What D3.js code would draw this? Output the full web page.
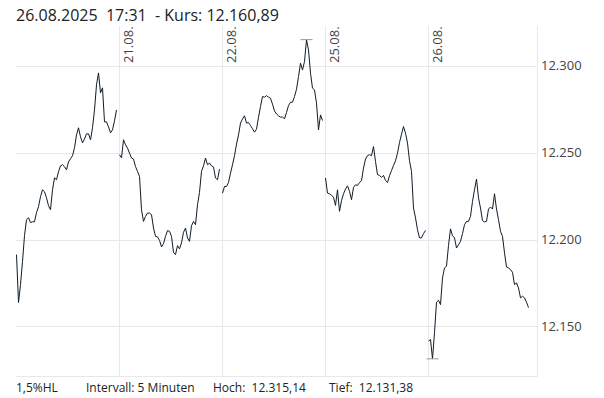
<!DOCTYPE html>
<meta charset="utf-8">
<html>
  <head>
    <script src="https://d3js.org/d3.v7.min.js"></script>
    <style>
      body { margin: 0; background: #fff; }
      text { font-family: "Open Sans", sans-serif; }
    </style>
  </head>
  <body>
    <svg id="chart" width="604" height="398"></svg>
    <script>
    // trading days shown, each one a session of 5-minute slots
    const days = ["20.08.", "21.08.", "22.08.", "25.08.", "26.08."];
    const slotsPerDay = 103;
    const sampleStep = 2; // one value every 10 minutes

    // index values, one per 10 minutes
    const kurs2008 = [12191.4, 12163.8, 12174.1, 12187.4, 12202.3, 12211.5, 12212.6, 12209.8, 12210.3, 12210.3,
        12215.5, 12219.0, 12224.7, 12228.7, 12227.6, 12224.1, 12219.5, 12217.2, 12228.7, 12235.6,
        12234.5, 12239.1, 12242.5, 12243.1, 12242.0, 12240.2, 12244.8, 12246.6, 12248.3, 12252.9,
        12260.3, 12264.4, 12259.2, 12255.7, 12258.0, 12260.9, 12260.9, 12257.5, 12264.4, 12274.7,
        12289.1, 12296.0, 12284.5, 12287.4, 12267.8, 12267.8, 12264.9, 12261.5, 12263.2, 12268.4, 12274.7];
    const kurs2108 = [12248.9, 12247.1, 12257.5, 12254.6, 12252.7, 12249.8, 12247.0, 12246.4, 12242.1, 12239.3,
        12236.4, 12217.2, 12210.5, 12213.4, 12215.3, 12215.3, 12214.4, 12206.7, 12201.9, 12201.6,
        12199.6, 12195.8, 12197.7, 12201.9, 12205.2, 12204.8, 12201.9, 12192.7, 12191.4, 12196.6,
        12194.7, 12198.1, 12204.2, 12206.7, 12201.0, 12199.0, 12208.0, 12210.5, 12208.6, 12220.1,
        12227.2, 12239.3, 12242.5, 12247.0, 12243.1, 12244.1, 12242.5, 12241.8, 12235.5, 12234.5, 12240.6];
    const kurs2208 = [12226.8, 12230.6, 12230.6, 12232.9, 12238.3, 12243.1, 12248.3, 12255.0, 12260.3, 12267.1,
        12269.5, 12271.3, 12267.1, 12267.4, 12265.7, 12263.8, 12261.9, 12263.6, 12270.5, 12276.6,
        12282.4, 12282.0, 12282.9, 12282.0, 12281.4, 12278.0, 12274.1, 12272.4, 12271.3, 12270.5,
        12270.7, 12269.5, 12273.2, 12277.2, 12279.1, 12279.1, 12282.4, 12286.6, 12293.9, 12301.6,
        12297.7, 12302.5, 12315.14, 12309.2, 12295.8, 12287.2, 12286.2, 12278.6, 12263.2, 12271.8, 12268.6];
    const kurs2508 = [12235.5, 12226.8, 12226.4, 12225.5, 12224.5, 12219.7, 12228.7, 12216.3, 12222.4, 12226.4,
        12229.1, 12231.0, 12227.8, 12223.0, 12230.1, 12231.6, 12231.2, 12232.9, 12233.9, 12241.2,
        12246.4, 12248.4, 12248.9, 12248.3, 12253.6, 12245.0, 12237.4, 12237.0, 12235.8, 12237.0,
        12234.1, 12232.9, 12236.8, 12239.8, 12242.7, 12245.4, 12249.8, 12255.9, 12260.7, 12265.1,
        12261.3, 12255.6, 12245.4, 12239.3, 12218.2, 12212.5, 12205.7, 12201.0, 12201.0, 12203.5, 12205.3];
    const kurs2608 = [12141.6, 12142.5, 12131.38, 12146.4, 12164.0, 12165.1, 12162.6, 12178.0, 12183.7, 12184.7,
        12196.6, 12206.2, 12202.3, 12201.0, 12195.2, 12197.1, 12199.0, 12203.5, 12208.6, 12210.5,
        12210.5, 12213.4, 12222.0, 12228.7, 12234.9, 12224.0, 12218.2, 12210.9, 12210.2, 12210.5,
        12217.6, 12218.8, 12217.6, 12226.4, 12217.6, 12211.5, 12204.8, 12201.9, 12192.4, 12184.3,
        12183.7, 12182.8, 12181.2, 12174.1, 12175.1, 12172.2, 12166.5, 12167.4, 12166.5, 12164.0, 12160.89];
    const series = [kurs2008, kurs2108, kurs2208, kurs2508, kurs2608];

    const yTicks = [12150, 12200, 12250, 12300];
    const titleText = "26.08.2025  17:31  - Kurs: ";
    const footer = ["1,5%HL", "Intervall: 5 Minuten", "Hoch:  12.315,14", "Tief:  12.131,38"];

    const de = d3.formatLocale({decimal: ",", thousands: ".", grouping: [3], currency: ["", " €"]});
    const fmtTick = de.format(",.0f");
    const fmtKurs = de.format(",.2f");

    var pLeft = 16, pRight = 537, pTop = 26, pBottom = 376;
    var svg = d3.select("#chart");

    var x = d3.scaleLinear()
        .domain([0, days.length * slotsPerDay + 6])
        .range([pLeft, pRight]);
    var y = d3.scaleLinear()
        .domain([12121.5, 12323])
        .range([pBottom, pTop]);

    // horizontal grid
    svg.append("g").selectAll("line")
        .data(yTicks)
        .enter().append("line")
        .attr("x1", pLeft).attr("x2", pRight)
        .attr("y1", d => Math.round(y(d)) + 0.5)
        .attr("y2", d => Math.round(y(d)) + 0.5)
        .attr("stroke", "#e8e8e8");

    // day separators + labels
    var dayG = svg.append("g").selectAll("g")
        .data(days.slice(1))
        .enter().append("g");
    dayG.append("line")
        .attr("x1", (d, i) => Math.round(x((i + 1) * slotsPerDay)) + 0.5)
        .attr("x2", (d, i) => Math.round(x((i + 1) * slotsPerDay)) + 0.5)
        .attr("y1", pTop).attr("y2", pBottom)
        .attr("stroke", "#e8e8e8");
    dayG.append("text")
        .attr("transform", (d, i) => "translate(" + (x((i + 1) * slotsPerDay) + 14) + ",63) rotate(-90)")
        .attr("font-size", 13)
        .attr("fill", "#444")
        .text(d => d);

    // frame: bottom + right
    svg.append("line")
        .attr("x1", pLeft).attr("x2", pRight + 0.5)
        .attr("y1", pBottom + 0.5).attr("y2", pBottom + 0.5)
        .attr("stroke", "#e8e8e8");
    svg.append("line")
        .attr("x1", pRight + 0.5).attr("x2", pRight + 0.5)
        .attr("y1", pTop).attr("y2", pBottom + 0.5)
        .attr("stroke", "#e8e8e8");

    // y labels on the right
    svg.append("g").selectAll("text")
        .data(yTicks)
        .enter().append("text")
        .attr("x", 541)
        .attr("y", d => y(d) + 4.5)
        .attr("font-size", 13)
        .attr("fill", "#444")
        .text(d => fmtTick(d));

    // price line, one path per day (gaps between sessions)
    var line = d3.line()
        .x(d => x(d.slot))
        .y(d => y(d.v));
    series.forEach(function(vals, di) {
        var pts = vals.map((v, k) => ({slot: di * slotsPerDay + k * sampleStep + 0.5, v: v}));
        svg.append("path")
            .datum(pts)
            .attr("fill", "none")
            .attr("stroke", "#0f1c28")
            .attr("stroke-width", 1)
            .attr("d", line);
    });

    // high / low markers
    var all = [];
    series.forEach(function(vals, di) {
        vals.forEach((v, k) => all.push({slot: di * slotsPerDay + k * sampleStep + 0.5, v: v}));
    });
    var hi = d3.greatest(all, d => d.v), lo = d3.least(all, d => d.v);
    svg.append("g").selectAll("line")
        .data([hi, lo])
        .enter().append("line")
        .attr("x1", d => x(d.slot) - 6).attr("x2", d => x(d.slot) + 6)
        .attr("y1", d => y(d.v)).attr("y2", d => y(d.v))
        .attr("stroke", "#999")
        .attr("stroke-width", 1);

    // title
    var last = kurs2608[kurs2608.length - 1];
    svg.append("text")
        .attr("x", 16).attr("y", 21)
        .attr("font-size", 16)
        .attr("fill", "#222")
        .style("white-space", "pre")
        .text(titleText + fmtKurs(last));

    // footer
    var footX = [16, 86, 213, 329];
    svg.append("g").selectAll("text")
        .data(footer)
        .enter().append("text")
        .attr("x", (d, i) => footX[i])
        .attr("y", 392)
        .attr("font-size", 12)
        .attr("fill", "#222")
        .style("white-space", "pre")
        .text(d => d);
    </script>
  </body>
</html>
